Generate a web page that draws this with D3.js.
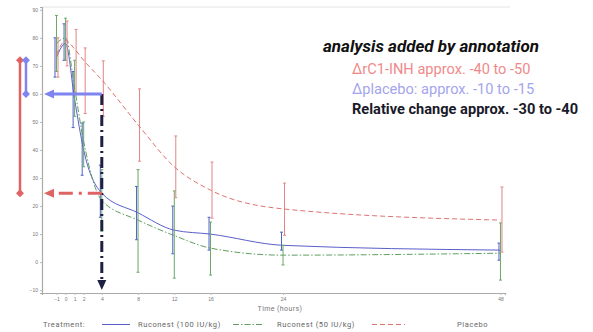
<!DOCTYPE html>
<html>
<head>
<meta charset="utf-8">
<script src="https://cdn.jsdelivr.net/npm/d3@7"></script>
<style>
  body { margin: 0; background: #fff; }
  svg { display: block; font-family: Roboto, sans-serif; }
</style>
</head>
<body>
<div id="chart"></div>
<script>
// time points (hours)
const times = [-1, 0, 1, 2, 4, 8, 12, 16, 24, 48];
const xTicks = [-1, 0, 1, 2, 4, 8, 12, 16, 24, 48];
const yTicks = [-10, 0, 10, 20, 30, 40, 50, 60, 70, 80, 90];

// Ruconest 100 U/kg
const r100Mean = [73, 78, 58, 40, 24.6, 17.6, 11.4, 10, 6, 4.3];
const r100Lo   = [66, 72, 48, 31, 16, 8, 3, 4.3, 4.3, 0.7];
const r100Hi   = [80, 85, 68, 49.6, 34.6, 27, 20, 16, 10.7, 6.8];

// Ruconest 50 U/kg
const r50Mean = [78, 80, 62, 43, 22, 15, 9.5, 5, 2.5, 3.2];
const r50Lo   = [68, 72, 52, 34, 11, -3.6, -5.7, -4.6, -1, -6.4];
const r50Hi   = [88, 87, 72, 50, 33, 33, 25.4, 14.3, 6, 14];

// Placebo
const plMean = [74, 79, 76, 72, 65, 49, 34, 25.7, 19, 15];
const plLo   = [66, 70, 60, 53, 52, 36, 23, 15.7, 9.6, 3.6];
const plHi   = [80, 86, 83, 76.4, 71.8, 61.8, 45, 35.7, 28.2, 26.8];

// annotation levels
const baselineLevel = 72;
const placeboLevel = 60;
const drugLevel = 24.6;
const annotTime = 4;

const annotLines = [
  "\u0394rC1-INH approx. -40 to -50",
  "\u0394placebo: approx. -10 to -15",
  "Relative change approx. -30 to -40"
];

const width = 593, height = 332;

const svg = d3.select("#chart").append("svg")
  .attr("width", width)
  .attr("height", height);

const x = d3.scaleLinear().domain([-2.6, 48.5]).range([42, 505]);
const y = d3.scaleLinear().domain([-11, 91]).range([293, 7]);

// frame
svg.append("line").attr("x1", 42).attr("x2", 510).attr("y1", 7).attr("y2", 7)
  .attr("stroke", "#e4e4e4").attr("stroke-width", 1);

const yAxis = svg.append("g")
  .attr("transform", "translate(42,0)")
  .call(d3.axisLeft(y).tickValues(yTicks).tickSize(2).tickPadding(2));
const xAxis = svg.append("g")
  .attr("transform", "translate(0,293)")
  .call(d3.axisBottom(x).tickValues(xTicks).tickSize(2).tickPadding(2));

[yAxis, xAxis].forEach(a => {
  a.select(".domain").attr("stroke", "#aaa").attr("stroke-width", 1.2);
  a.selectAll(".tick line").attr("stroke", "#bbb");
  a.selectAll("text").attr("fill", "#777").attr("font-size", 5);
});

svg.append("text")
  .attr("x", 280).attr("y", 311)
  .attr("text-anchor", "middle")
  .attr("font-size", 7).attr("letter-spacing", 0.4).attr("fill", "#777")
  .text("Time (hours)");

const series = [
  { name: "Ruconest (100 IU/kg)", mean: r100Mean, lo: r100Lo, hi: r100Hi, color: "#5a5fc8", err: "#4f62c6", dash: null, dx: -1.5 },
  { name: "Ruconest (50 IU/kg)", mean: r50Mean, lo: r50Lo, hi: r50Hi, color: "#5f9f5f", err: "#6aa86a", dash: "6,2,1.5,2", dx: 0 },
  { name: "Placebo", mean: plMean, lo: plLo, hi: plHi, color: "#e07272", err: "#e38585", dash: "5,3", dx: 1.5 }
];

const line = d3.line()
  .x(d => x(d.t))
  .y(d => y(d.v))
  .curve(d3.curveMonotoneX);

series.forEach(s => {
  const pts = times.map((t, i) => ({ t, v: s.mean[i], lo: s.lo[i], hi: s.hi[i] }));
  const g = svg.append("g");
  g.selectAll("line.err")
    .data(pts)
    .join("line")
    .attr("x1", d => x(d.t) + s.dx).attr("x2", d => x(d.t) + s.dx)
    .attr("y1", d => y(d.lo)).attr("y2", d => y(d.hi))
    .attr("stroke", s.err).attr("stroke-width", 1);
  ["lo", "hi"].forEach(k => {
    g.selectAll("line.cap" + k)
      .data(pts)
      .join("line")
      .attr("x1", d => x(d.t) + s.dx - 1.5).attr("x2", d => x(d.t) + s.dx + 1.5)
      .attr("y1", d => y(d[k])).attr("y2", d => y(d[k]))
      .attr("stroke", s.err).attr("stroke-width", 1);
  });
  g.append("path")
    .datum(pts)
    .attr("fill", "none")
    .attr("stroke", s.color)
    .attr("stroke-width", 1)
    .attr("stroke-dasharray", s.dash)
    .attr("d", line);
});

// legend
const legend = svg.append("g").attr("font-size", 7.5).attr("letter-spacing", 0.6).attr("fill", "#666");
legend.append("text").attr("x", 43).attr("y", 327).text("Treatment:");
const legItems = [
  { x0: 102, x1: 130, tx: 138 },
  { x0: 233, x1: 262, tx: 277 },
  { x0: 372, x1: 405, tx: 457 }
];
series.forEach((s, i) => {
  const it = legItems[i];
  legend.append("line")
    .attr("x1", it.x0).attr("x2", it.x1).attr("y1", 324.5).attr("y2", 324.5)
    .attr("stroke", s.color).attr("stroke-width", 1)
    .attr("stroke-dasharray", s.dash);
  legend.append("text").attr("x", it.tx).attr("y", 327).text(s.name);
});

// annotation arrows
const ax = x(annotTime);
const axisX = x.range()[0];
const navy = "#1d2040";
const redA = "#e06363";
const blueA = "#7f84f0";

svg.append("line")
  .attr("x1", ax).attr("x2", ax)
  .attr("y1", y(placeboLevel)).attr("y2", 282)
  .attr("stroke", navy).attr("stroke-width", 3)
  .attr("stroke-dasharray", "11,4,2,4");
svg.append("path")
  .attr("d", `M${ax - 4.5},280 L${ax + 4.5},280 L${ax},290 Z`)
  .attr("fill", navy);

svg.append("line")
  .attr("x1", ax).attr("x2", axisX + 10)
  .attr("y1", y(placeboLevel)).attr("y2", y(placeboLevel))
  .attr("stroke", blueA).attr("stroke-width", 3);
svg.append("path")
  .attr("d", `M${axisX + 12},${y(placeboLevel) - 4.5} L${axisX + 12},${y(placeboLevel) + 4.5} L${axisX + 2},${y(placeboLevel)} Z`)
  .attr("fill", blueA);

svg.append("line")
  .attr("x1", ax).attr("x2", axisX + 10)
  .attr("y1", y(drugLevel)).attr("y2", y(drugLevel))
  .attr("stroke", redA).attr("stroke-width", 3)
  .attr("stroke-dasharray", "14,6,3,6");
svg.append("path")
  .attr("d", `M${axisX + 12},${y(drugLevel) - 4.5} L${axisX + 12},${y(drugLevel) + 4.5} L${axisX + 2},${y(drugLevel)} Z`)
  .attr("fill", redA);

// left brackets with diamonds
function bracket(bx, v0, v1, color) {
  svg.append("line")
    .attr("x1", bx).attr("x2", bx).attr("y1", y(v0)).attr("y2", y(v1))
    .attr("stroke", color).attr("stroke-width", 2.5);
  [v0, v1].forEach(v => {
    svg.append("path")
      .attr("d", d3.symbol().type(d3.symbolDiamond2).size(40)())
      .attr("transform", `translate(${bx},${y(v)})`)
      .attr("fill", color);
  });
}
bracket(20, baselineLevel, drugLevel, redA);
bracket(26, baselineLevel, placeboLevel, blueA);

// annotation text
svg.append("text")
  .attr("x", 323).attr("y", 52)
  .attr("font-size", 17).attr("font-weight", "bold").attr("font-style", "italic")
  .attr("fill", "#111")
  .text("analysis added by annotation");

const annotColors = ["#ef8a8a", "#a3a5ee", "#1a1a2a"];
annotLines.forEach((t, i) => {
  svg.append("text")
    .attr("x", 352).attr("y", 73.5 + i * 20)
    .attr("font-size", 14.6)
    .attr("font-weight", i === 2 ? "bold" : "normal")
    .attr("fill", annotColors[i])
    .text(t);
});
</script>
</body>
</html>
